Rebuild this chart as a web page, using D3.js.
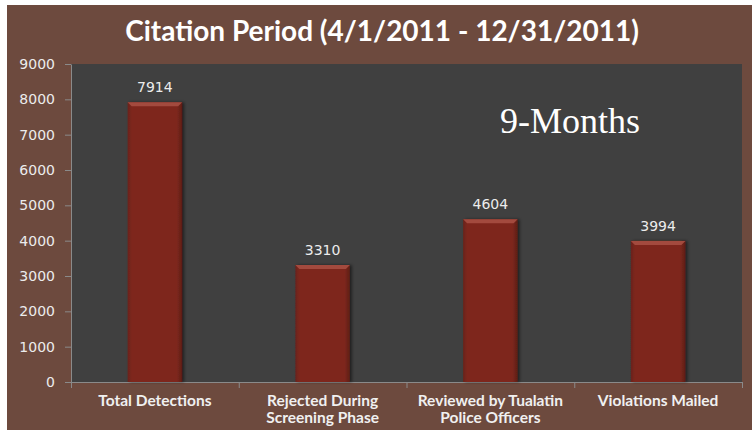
<!DOCTYPE html>
<html>
<head>
<meta charset="utf-8">
<script src="https://cdn.jsdelivr.net/npm/d3@7"></script>
<style>
  html, body { margin: 0; padding: 0; background: #fff; }
  svg { display: block; }
  .axis path, .axis line { stroke: #8a8a8a; }
  .axis text { fill: #ececec; }
</style>
</head>
<body>
<div id="chart"></div>
<script>
// data
const categories = [
  ["Total Detections"],
  ["Rejected During", "Screening Phase"],
  ["Reviewed by Tualatin", "Police Officers"],
  ["Violations Mailed"]
];
const values = [7914, 3310, 4604, 3994];
const yTicks = [0, 1000, 2000, 3000, 4000, 5000, 6000, 7000, 8000, 9000];
const title = "Citation Period (4/1/2011 - 12/31/2011)";
const note = "9-Months";

const W = 752, H = 430;
const margin = {top: 64, right: 10, bottom: 48, left: 71};
const width = W - margin.left - margin.right;
const height = H - margin.top - margin.bottom;

const svg = d3.select("#chart").append("svg")
  .attr("width", W)
  .attr("height", H);

// background frame
svg.append("rect")
  .attr("x", 7).attr("y", 5)
  .attr("width", W - 7).attr("height", H - 5)
  .attr("fill", "#6d4a3e");

const defs = svg.append("defs");
const grad = defs.append("linearGradient")
  .attr("id", "barGrad")
  .attr("x1", "0").attr("x2", "1").attr("y1", "0").attr("y2", "0");
grad.append("stop").attr("offset", "0").attr("stop-color", "#6a2219");
grad.append("stop").attr("offset", "0.08").attr("stop-color", "#7e281e");
grad.append("stop").attr("offset", "0.9").attr("stop-color", "#7e281e");
grad.append("stop").attr("offset", "1").attr("stop-color", "#5e1d15");

const shadow = defs.append("filter").attr("id", "shadow")
  .attr("x", "-20%").attr("y", "-5%").attr("width", "150%").attr("height", "110%");
shadow.append("feDropShadow")
  .attr("dx", 2).attr("dy", 0).attr("stdDeviation", 1.5)
  .attr("flood-color", "#000").attr("flood-opacity", 0.5);

// title
svg.append("text")
  .attr("x", 382).attr("y", 41)
  .attr("text-anchor", "middle")
  .attr("font-family", "Lato, 'Open Sans', sans-serif")
  .attr("font-weight", "bold")
  .attr("font-size", 28)
  .attr("fill", "#ffffff")
  .text(title);

const chart = svg.append("g")
  .attr("transform", `translate(${margin.left},${margin.top})`);

// scales
const x = d3.scaleBand()
  .domain(d3.range(categories.length))
  .range([0, width])
  .paddingInner(0.675)
  .paddingOuter(0.3375);

const y = d3.scaleLinear()
  .domain([0, 9000])
  .range([height, 0]);

// plot area
chart.append("rect")
  .attr("width", width)
  .attr("height", height)
  .attr("fill", "#404040");

// y axis
chart.append("g")
  .attr("class", "axis y-axis")
  .call(d3.axisLeft(y).tickValues(yTicks).tickFormat(d3.format("d"))
    .tickSize(6).tickPadding(10).tickSizeOuter(0))
  .call(g => g.selectAll("text")
    .attr("font-family", "'DejaVu Sans', Verdana, sans-serif")
    .attr("font-size", 14));

// x axis: ticks at category boundaries
const xb = d3.scaleLinear().domain([0, categories.length]).range([0, width]);
chart.append("g")
  .attr("class", "axis x-axis")
  .attr("transform", `translate(0,${height})`)
  .call(d3.axisBottom(xb).ticks(categories.length).tickSize(6).tickSizeOuter(0).tickFormat(""));

// category labels
const labels = chart.append("g")
  .attr("font-family", "Lato, 'Open Sans', sans-serif")
  .attr("font-weight", "bold")
  .attr("font-size", 15.5)
  .attr("fill", "#f0f0f0")
  .attr("text-anchor", "middle");

categories.forEach((lines, i) => {
  const t = labels.append("text")
    .attr("x", xb(i + 0.5))
    .attr("y", height + 24);
  lines.forEach((line, j) => {
    t.append("tspan")
      .attr("x", xb(i + 0.5))
      .attr("dy", j === 0 ? 0 : 17)
      .text(line);
  });
});

// bars
const bars = chart.selectAll(".bar")
  .data(values)
  .enter().append("g")
  .attr("class", "bar");

bars.append("rect")
  .attr("x", (d, i) => x(i))
  .attr("y", d => y(d))
  .attr("width", x.bandwidth())
  .attr("height", d => height - y(d))
  .attr("fill", "url(#barGrad)")
  .attr("filter", "url(#shadow)");

// top bevel
bars.append("path")
  .attr("d", (d, i) => {
    const x0 = x(i), x1 = x(i) + x.bandwidth(), y0 = y(d), b = 4;
    return `M${x0},${y0}L${x1},${y0}L${x1 - b},${y0 + b}L${x0 + b},${y0 + b}Z`;
  })
  .attr("fill", "#a34a3e");

// value labels
bars.append("text")
  .attr("x", (d, i) => x(i) + x.bandwidth() / 2)
  .attr("y", d => y(d) - 10)
  .attr("text-anchor", "middle")
  .attr("font-family", "'DejaVu Sans', Verdana, sans-serif")
  .attr("font-size", 14)
  .attr("fill", "#ececec")
  .text(d => d);

// annotation
chart.append("text")
  .attr("x", 570 - margin.left)
  .attr("y", 133 - margin.top)
  .attr("text-anchor", "middle")
  .attr("font-family", "'Liberation Serif', 'DejaVu Serif', serif")
  .attr("font-size", 36)
  .attr("fill", "#ffffff")
  .text(note);
</script>
</body>
</html>
